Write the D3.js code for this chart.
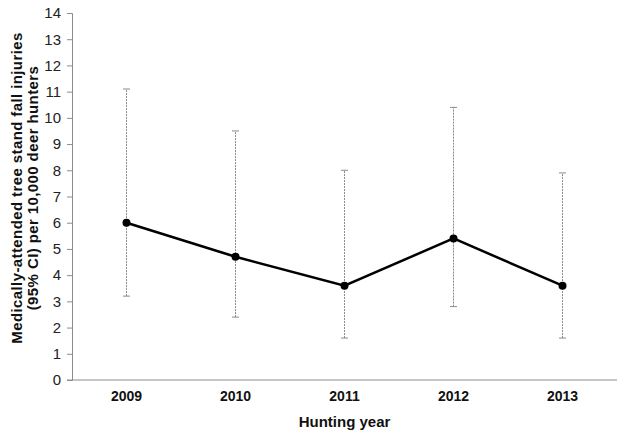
<!DOCTYPE html>
<html>
<head>
<meta charset="utf-8">
<script src="https://cdn.jsdelivr.net/npm/d3@7"></script>
<style>
  body { margin: 0; background: #fff; }
  svg { display: block; font-family: "Liberation Sans", Arial, sans-serif; }
</style>
</head>
<body>
<svg id="chart" width="624" height="438"></svg>
<script>
// Data
const years = ["2009", "2010", "2011", "2012", "2013"];
const rates = [6.0, 4.7, 3.6, 5.4, 3.6];
const lower = [3.2, 2.4, 1.6, 2.8, 1.6];
const upper = [11.1, 9.5, 8.0, 10.4, 7.9];
const yTicks = d3.range(0, 15);

const data = years.map((y, i) => ({ year: y, rate: rates[i], lo: lower[i], hi: upper[i] }));

const margin = { top: 13, right: 7, bottom: 58, left: 72 };
const width = 624;
const height = 438;
const svg = d3.select("#chart");

const x = d3.scaleBand()
  .domain(years)
  .range([margin.left, width - margin.right]);

const y = d3.scaleLinear()
  .domain([0, 14])
  .range([height - margin.bottom, margin.top]);

// y axis
const yAxis = svg.append("g")
  .attr("transform", `translate(${margin.left},0)`)
  .call(d3.axisLeft(y).tickValues(yTicks).tickSize(5).tickPadding(6).tickFormat(d3.format("d")));
yAxis.select(".domain").attr("stroke", "#8c8c8c");
yAxis.selectAll(".tick line").attr("stroke", "#8c8c8c");
yAxis.selectAll(".tick text")
  .attr("font-size", 15)
  .attr("fill", "#222")
  .attr("font-family", "Liberation Sans, Arial, sans-serif");

// x axis
const xAxis = svg.append("g")
  .attr("transform", `translate(0,${y(0)})`)
  .call(d3.axisBottom(x).tickSize(0).tickPadding(11));
xAxis.select(".domain").attr("stroke", "#8c8c8c").attr("d", `M${margin.left - 5},0H${width - margin.right}`);
xAxis.selectAll(".tick text")
  .attr("font-size", 14)
  .attr("font-weight", "bold")
  .attr("fill", "#111")
  .attr("font-family", "Liberation Sans, Arial, sans-serif");

const cx = d => x(d.year) + x.bandwidth() / 2;

// error bars
const err = svg.append("g").attr("stroke", "#8a8a8a").attr("stroke-width", 1);
err.selectAll("line.bar")
  .data(data)
  .join("line")
  .attr("class", "bar")
  .attr("x1", cx).attr("x2", cx)
  .attr("y1", d => y(d.lo)).attr("y2", d => y(d.hi))
  .attr("stroke-dasharray", "2,1");
err.selectAll("line.capHi")
  .data(data)
  .join("line")
  .attr("class", "capHi")
  .attr("x1", d => cx(d) - 3.5).attr("x2", d => cx(d) + 3.5)
  .attr("y1", d => y(d.hi)).attr("y2", d => y(d.hi));
err.selectAll("line.capLo")
  .data(data)
  .join("line")
  .attr("class", "capLo")
  .attr("x1", d => cx(d) - 3.5).attr("x2", d => cx(d) + 3.5)
  .attr("y1", d => y(d.lo)).attr("y2", d => y(d.lo));

// main line
const line = d3.line().x(cx).y(d => y(d.rate));
svg.append("path")
  .datum(data)
  .attr("fill", "none")
  .attr("stroke", "#000")
  .attr("stroke-width", 2.5)
  .attr("d", line);

svg.append("g")
  .selectAll("circle")
  .data(data)
  .join("circle")
  .attr("cx", cx)
  .attr("cy", d => y(d.rate))
  .attr("r", 4)
  .attr("fill", "#000");

// axis titles
svg.append("text")
  .attr("x", (margin.left + width - margin.right) / 2)
  .attr("y", 427)
  .attr("text-anchor", "middle")
  .attr("font-size", 15)
  .attr("font-weight", "bold")
  .attr("fill", "#111")
  .text("Hunting year");

const yTitle = svg.append("text")
  .attr("transform", "translate(0,188) rotate(-90)")
  .attr("text-anchor", "middle")
  .attr("font-size", 15)
  .attr("letter-spacing", 0.4)
  .attr("font-weight", "bold")
  .attr("fill", "#111");
yTitle.append("tspan").attr("x", 0).attr("y", 22).text("Medically-attended tree stand fall injuries");
yTitle.append("tspan").attr("x", 0).attr("y", 38).text("(95% CI) per 10,000 deer hunters");
</script>
</body>
</html>
